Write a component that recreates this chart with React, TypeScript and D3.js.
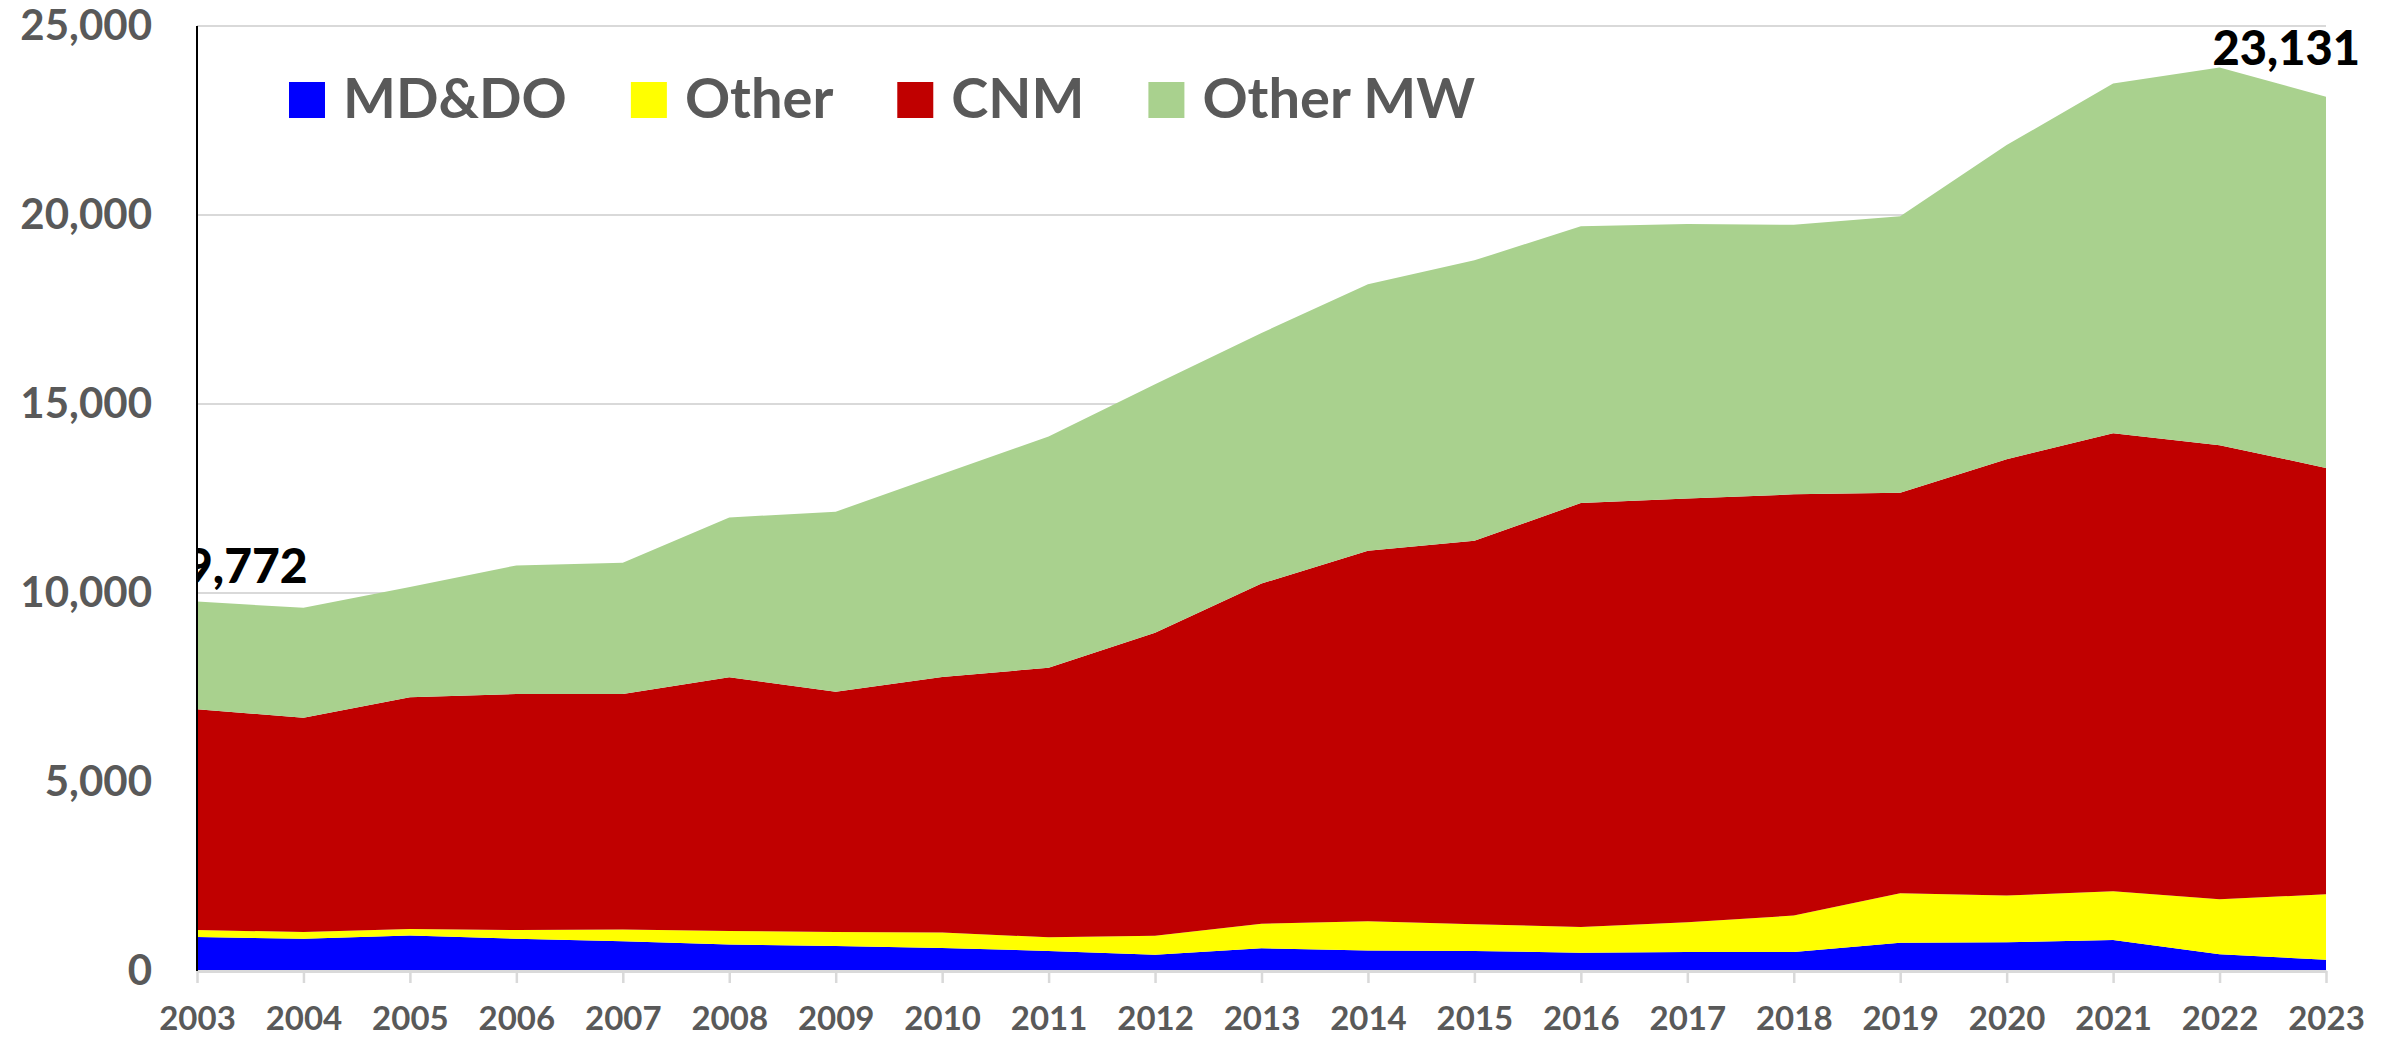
import React, { useEffect, useRef } from "react";
import * as d3 from "d3";

const years = [
  2003, 2004, 2005, 2006, 2007, 2008, 2009, 2010, 2011, 2012, 2013,
  2014, 2015, 2016, 2017, 2018, 2019, 2020, 2021, 2022, 2023,
];
const mdDo = [900, 850, 940, 855, 785, 700, 660, 610, 530, 430, 600, 540, 530, 485, 500, 500, 750, 760, 820, 440, 300];
const other = [185, 180, 170, 230, 315, 360, 370, 410, 360, 505, 650, 775, 705, 680, 790, 965, 1305, 1235, 1290, 1455, 1730];
const cnm = [5840, 5670, 6130, 6245, 6230, 6710, 6360, 6760, 7130, 8015, 9000, 9805, 10145, 11215, 11210, 11145, 10595, 11545, 12115, 12015, 11280];
const otherMw = [2847, 2910, 2920, 3400, 3470, 4230, 4760, 5370, 6120, 6570, 6630, 7050, 7420, 7320, 7260, 7130, 7320, 8310, 9255, 9990, 9821];

const seriesNames = ["MD&DO", "Other", "CNM", "Other MW"];
const seriesColors = ["#0000FF", "#FFFF00", "#C00000", "#A9D18E"];
const yTicks = [0, 5000, 10000, 15000, 20000, 25000];

const App = () => {
  const chartRef = useRef<HTMLDivElement>(null);

  useEffect(() => {
    const width = 2392;
    const height = 1037;
    const margin = { top: 26, right: 66, bottom: 66, left: 197 };
    const font = "Lato, 'Open Sans', sans-serif";
    const grey = "#595959";

    d3.select(chartRef.current).select("svg").remove();

    const svg = d3
      .select(chartRef.current)
      .append("svg")
      .attr("width", width)
      .attr("height", height)
      .style("position", "absolute")
      .style("left", "0px")
      .style("top", "0px")
      .style("background", "#fff");

    const table = years.map((year, i) => ({
      year,
      "MD&DO": mdDo[i],
      Other: other[i],
      CNM: cnm[i],
      "Other MW": otherMw[i],
    }));

    const xScale = d3
      .scalePoint<number>()
      .domain(years)
      .range([margin.left, width - margin.right]);

    const yScale = d3
      .scaleLinear()
      .domain([0, 25000])
      .range([height - margin.bottom, margin.top]);

    // gridlines
    svg.append("g")
      .selectAll("line")
      .data(yTicks.filter((t) => t > 0))
      .join("line")
      .attr("x1", margin.left)
      .attr("x2", width - margin.right)
      .attr("y1", (d) => yScale(d))
      .attr("y2", (d) => yScale(d))
      .attr("stroke", "#d9d9d9")
      .attr("stroke-width", 2);

    const stack = d3.stack<any>().keys(seriesNames);
    const layers = stack(table);

    const area = d3
      .area<any>()
      .x((d) => xScale(d.data.year)!)
      .y0((d) => yScale(d[0]))
      .y1((d) => yScale(d[1]));

    svg.append("g")
      .selectAll("path")
      .data(layers)
      .join("path")
      .attr("fill", (_, i) => seriesColors[i])
      .attr("d", area);

    // x axis
    const xAxis = svg.append("g")
      .attr("transform", `translate(0,${yScale(0)})`)
      .call(d3.axisBottom(xScale).tickSize(12).tickPadding(24).tickSizeOuter(0));
    xAxis.select(".domain").attr("stroke", "#d9d9d9").attr("stroke-width", 3);
    xAxis.selectAll(".tick line").attr("stroke", "#d9d9d9").attr("stroke-width", 2.5);
    xAxis.selectAll(".tick text")
      .attr("fill", grey)
      .style("font-family", font)
      .style("font-weight", "bold")
      .style("font-size", "33px");

    // y axis
    const yAxis = svg.append("g")
      .attr("transform", `translate(${margin.left},0)`)
      .call(
        d3.axisLeft(yScale)
          .tickValues(yTicks)
          .tickFormat((d) => d3.format(",")(d as number))
          .tickSize(0)
          .tickPadding(45)
      );
    yAxis.select(".domain").remove();
    yAxis.selectAll(".tick text")
      .attr("fill", grey)
      .style("font-family", font)
      .style("font-weight", "bold")
      .style("font-size", "42px");

    // end labels
    const totals = table.map((d) => d["MD&DO"] + d.Other + d.CNM + d["Other MW"]);
    const fmt = d3.format(",");

    svg.append("clipPath")
      .attr("id", "plot-clip")
      .append("rect")
      .attr("x", margin.left)
      .attr("y", 0)
      .attr("width", width)
      .attr("height", height);

    svg.append("text")
      .attr("clip-path", "url(#plot-clip)")
      .attr("x", xScale(years[0])! - 12)
      .attr("y", yScale(totals[0]) - 19)
      .attr("fill", "#000")
      .style("font-family", font)
      .style("font-weight", "900")
      .style("font-size", "48px")
      .text(fmt(totals[0]));

    svg.append("text")
      .attr("x", xScale(years[years.length - 1])! + 34)
      .attr("y", yScale(totals[totals.length - 1]) - 32)
      .attr("text-anchor", "end")
      .attr("fill", "#000")
      .style("font-family", font)
      .style("font-weight", "900")
      .style("font-size", "47px")
      .text(fmt(totals[totals.length - 1]));

    svg.append("line")
      .attr("x1", margin.left)
      .attr("x2", margin.left)
      .attr("y1", yScale(25000))
      .attr("y2", yScale(0))
      .attr("stroke", "#000")
      .attr("stroke-width", 2);

    // legend
    const legend = svg.append("g");
    let lx = 289;
    seriesNames.forEach((name, i) => {
      legend.append("rect")
        .attr("x", lx)
        .attr("y", 82)
        .attr("width", 36)
        .attr("height", 36)
        .attr("fill", seriesColors[i]);
      const t = legend.append("text")
        .attr("x", lx + 54)
        .attr("y", 118)
        .attr("fill", grey)
        .style("font-family", font)
        .style("font-weight", "bold")
        .style("font-size", "56px")
        .text(name);
      const w = (t.node() as SVGTextElement).getComputedTextLength();
      lx += 54 + w + 64;
    });
  }, []);

  return <div ref={chartRef}></div>;
};

export default App;
